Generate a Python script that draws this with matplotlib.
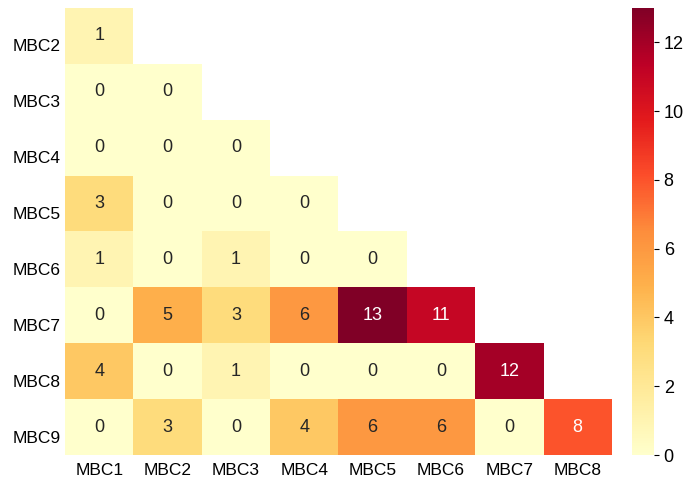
import numpy as np
import matplotlib
matplotlib.use("Agg")
import matplotlib.pyplot as plt
import matplotlib.transforms as mtransforms
import seaborn as sns

plt.rcParams['font.family'] = ['Liberation Sans', 'DejaVu Sans']

row_labels = ["MBC2", "MBC3", "MBC4", "MBC5", "MBC6", "MBC7", "MBC8", "MBC9"]
col_labels = ["MBC1", "MBC2", "MBC3", "MBC4", "MBC5", "MBC6", "MBC7", "MBC8"]

# lower-triangular counts, one list per row
row_mbc2 = [1]
row_mbc3 = [0, 0]
row_mbc4 = [0, 0, 0]
row_mbc5 = [3, 0, 0, 0]
row_mbc6 = [1, 0, 1, 0, 0]
row_mbc7 = [0, 5, 3, 6, 13, 11]
row_mbc8 = [4, 0, 1, 0, 0, 0, 12]
row_mbc9 = [0, 3, 0, 4, 6, 6, 0, 8]
rows = [row_mbc2, row_mbc3, row_mbc4, row_mbc5, row_mbc6, row_mbc7, row_mbc8, row_mbc9]

n = len(col_labels)
data = np.full((len(rows), n), np.nan)
for i, r in enumerate(rows):
    data[i, :len(r)] = r
mask = np.isnan(data)

fig = plt.figure(figsize=(6.94, 4.84), dpi=100)
ax = fig.add_axes([0.0937, 0.0599, 0.788, 0.9236])
cax = fig.add_axes([0.9107, 0.0599, 0.0317, 0.9236])

sns.heatmap(data, mask=mask, cmap="YlOrRd", vmin=0, vmax=13, annot=True, fmt=".0f",
            annot_kws={"fontsize": 13}, ax=ax, cbar_ax=cax,
            xticklabels=col_labels, yticklabels=row_labels)
ax.tick_params(axis='both', length=0, labelsize=12.5)
ax.tick_params(axis='y', pad=3)
ax.tick_params(axis='x', pad=6)
ax.set_yticklabels(row_labels, rotation=0)
ax.set_xticklabels(col_labels, rotation=0)

# row labels sit a little below the cell centres
shift = mtransforms.ScaledTranslation(0, -0.11, fig.dpi_scale_trans)
for lbl in ax.get_yticklabels():
    lbl.set_transform(lbl.get_transform() + shift)

cax.tick_params(labelsize=13)
cax.set_yticks([0, 2, 4, 6, 8, 10, 12])
for s in cax.spines.values():
    s.set_visible(False)

fig.savefig("out.png", dpi=100)
